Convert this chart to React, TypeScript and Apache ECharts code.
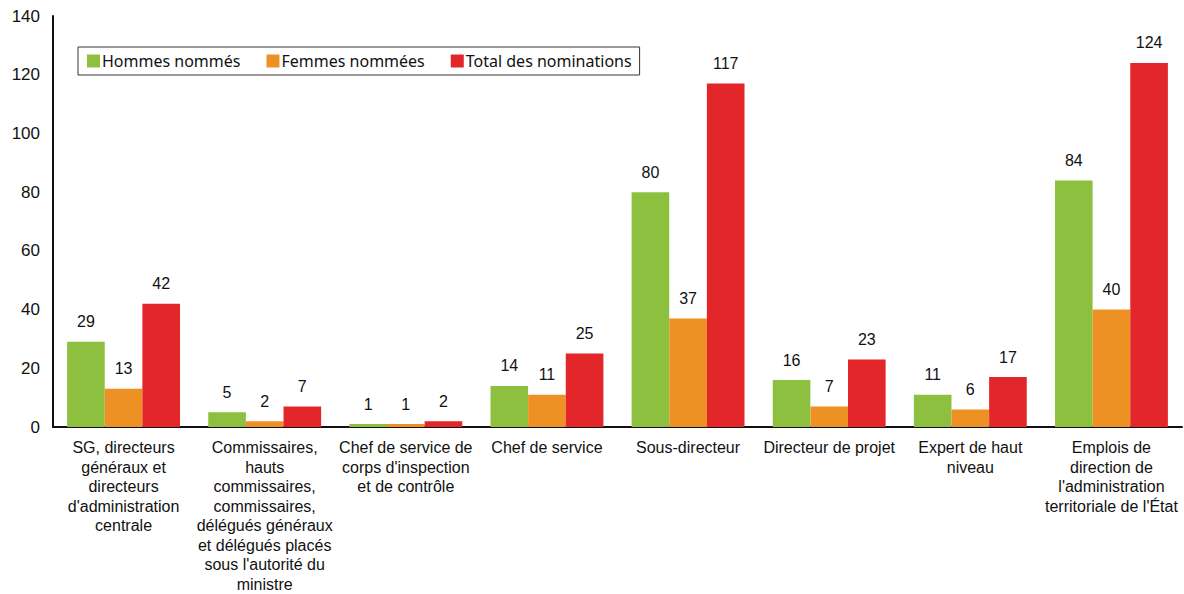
import React, { useEffect, useRef } from "react";
import * as echarts from "echarts";

const categories = [
  "SG, directeurs\ngénéraux et\ndirecteurs\nd'administration\ncentrale",
  "Commissaires,\nhauts\ncommissaires,\ncommissaires,\ndélégués généraux\net délégués placés\nsous l'autorité du\nministre",
  "Chef de service de\ncorps d'inspection\net de contrôle",
  "Chef de service",
  "Sous-directeur",
  "Directeur de projet",
  "Expert de haut\nniveau",
  "Emplois de\ndirection de\nl'administration\nterritoriale de l'État",
];
const hommes = [29, 5, 1, 14, 80, 16, 11, 84];
const femmes = [13, 2, 1, 11, 37, 7, 6, 40];
const total = [42, 7, 2, 25, 117, 23, 17, 124];
const seriesNames = ["Hommes nommés", "Femmes nommées", "Total des nominations"];
const colors = ["#8DC03F", "#EE9124", "#E3262A"];

export default function App() {
  const ref = useRef<HTMLDivElement>(null);
  useEffect(() => {
    const chart = echarts.init(ref.current!, undefined, { renderer: "svg" });
    const font = "'Liberation Sans', Arial, sans-serif";
    const mk = (name: string, data: number[], color: string) => ({
      name,
      type: "bar",
      data,
      barGap: "0%",
      barCategoryGap: "20%",
      itemStyle: { color },
      label: {
        show: true,
        position: "top",
        distance: 12,
        color: "#111",
        fontFamily: font,
        fontSize: 16,
      },
    });
    chart.setOption({
      animation: false,
      textStyle: { fontFamily: font },
      legend: {
        left: 78,
        top: 47,
        orient: "horizontal",
        itemWidth: 13,
        itemHeight: 13,
        itemGap: 26,
        padding: [6, 8, 6, 9],
        borderColor: "#333",
        borderWidth: 1,
        icon: "rect",
        textStyle: { fontFamily: "'Noto Sans', 'Open Sans', sans-serif", fontSize: 16, color: "#111", padding: [0, 0, 0, -3] },
        data: seriesNames,
      },
      grid: { left: 53, right: 2, top: 16, bottom: 164, containLabel: false },
      xAxis: {
        type: "category",
        data: categories,
        axisLine: { lineStyle: { color: "#111", width: 2 } },
        axisTick: { show: false },
        axisLabel: {
          interval: 0,
          fontFamily: font,
          fontSize: 16,
          color: "#111",
          lineHeight: 19.5,
          margin: 11,
          align: "center",
        },
      },
      yAxis: {
        type: "value",
        min: 0,
        max: 140,
        interval: 20,
        axisLine: { show: true, lineStyle: { color: "#111", width: 2 } },
        axisTick: { show: false },
        splitLine: { show: false },
        axisLabel: { fontFamily: font, fontSize: 17, color: "#111", margin: 13 },
      },
      series: [
        mk(seriesNames[0], hommes, colors[0]),
        mk(seriesNames[1], femmes, colors[1]),
        mk(seriesNames[2], total, colors[2]),
      ],
    });
    return () => chart.dispose();
  }, []);
  return <div ref={ref} style={{ width: 1184, height: 594, position: "absolute", left: 0, top: 0, background: "#fff" }} />;
}
